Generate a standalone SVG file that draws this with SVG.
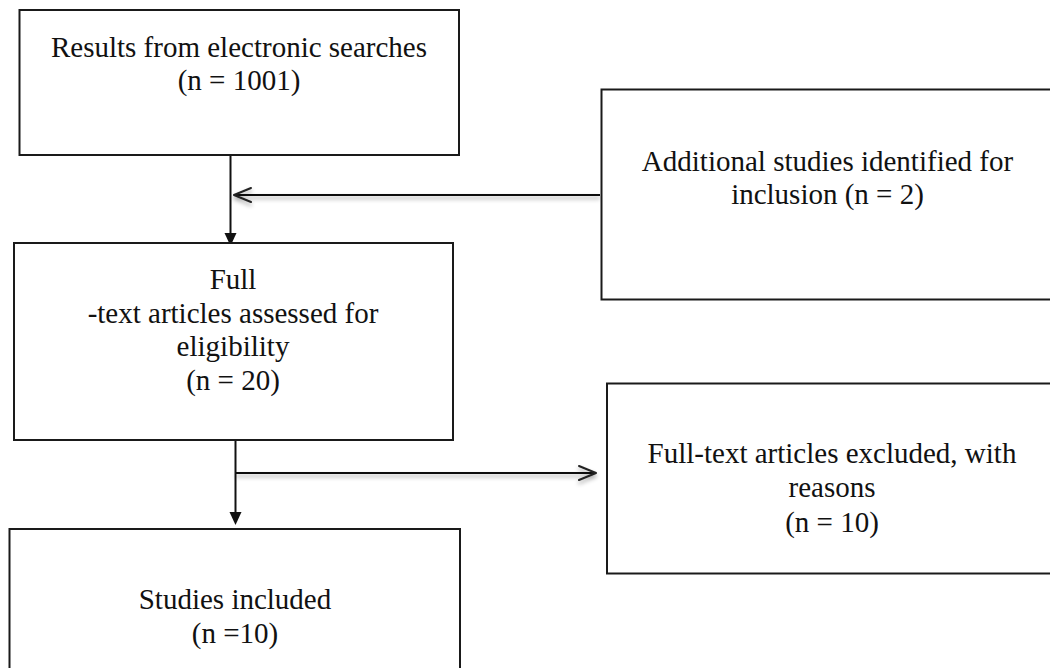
<svg xmlns="http://www.w3.org/2000/svg" width="1050" height="668" viewBox="0 0 1050 668">
  <style>
    .box { fill: #ffffff; stroke: #1a1a1a; stroke-width: 2; }
    .lbl { font-family: "Liberation Serif", "Times New Roman", serif; font-size: 29px; fill: #111111; text-anchor: middle; }
    .conn { stroke: #111111; stroke-width: 2; fill: none; }
    .open { stroke: #222222; stroke-width: 2; fill: none; stroke-linecap: round; stroke-linejoin: round; }
  </style>
  <defs>
    <marker id="tri" viewBox="0 0 12 13" refX="6" refY="13" markerWidth="12" markerHeight="13" markerUnits="userSpaceOnUse" orient="auto-start-reverse">
      <path d="M0,0 L12,0 L6,13 Z" fill="#111111"/>
    </marker>
    <filter id="shadow" x="-5%" y="-200%" width="110%" height="500%">
      <feDropShadow dx="0" dy="3" stdDeviation="2" flood-color="#000000" flood-opacity="0.35"/>
    </filter>
  </defs>
  <rect width="1050" height="668" fill="#ffffff"/>

  <g id="connectors">
    <line class="conn" x1="230.5" y1="155" x2="230.5" y2="233"/>
    <path d="M224.5,233 L236.5,233 L230.5,246 Z" fill="#111111"/>
    <g filter="url(#shadow)">
      <line class="conn" x1="600" y1="195" x2="234" y2="195"/>
      <polyline class="open" points="251,188 234,195 251,202"/>
    </g>
    <line class="conn" x1="235.5" y1="440" x2="235.5" y2="512"/>
    <path d="M229.5,512 L241.5,512 L235.5,525 Z" fill="#111111"/>
    <g filter="url(#shadow)">
      <line class="conn" x1="235.5" y1="473" x2="596" y2="473"/>
      <polyline class="open" points="579,466 596,473 579,480"/>
    </g>
  </g>

  <g id="node-results">
    <rect class="box" x="19.5" y="10" width="439.5" height="145"/>
    <text class="lbl" x="239" y="57">Results from electronic searches</text>
    <text class="lbl" x="239" y="90">(n = 1001)</text>
  </g>

  <g id="node-additional">
    <rect class="box" x="601.5" y="89.5" width="470" height="210"/>
    <text class="lbl" x="827.5" y="171">Additional studies identified for</text>
    <text class="lbl" x="827.5" y="204">inclusion (n = 2)</text>
  </g>

  <g id="node-fulltext">
    <rect class="box" x="14" y="243" width="439" height="197"/>
    <text class="lbl" x="233" y="289">Full</text>
    <text class="lbl" x="233" y="323">-text articles assessed for</text>
    <text class="lbl" x="233" y="356">eligibility</text>
    <text class="lbl" x="233" y="390">(n = 20)</text>
  </g>

  <g id="node-excluded">
    <rect class="box" x="607" y="383.5" width="470" height="190"/>
    <text class="lbl" x="832" y="463">Full-text articles excluded, with</text>
    <text class="lbl" x="832" y="497">reasons</text>
    <text class="lbl" x="832" y="532">(n = 10)</text>
  </g>

  <g id="node-included">
    <rect class="box" x="9.5" y="529" width="450.5" height="160"/>
    <text class="lbl" x="235" y="609">Studies included</text>
    <text class="lbl" x="235" y="643">(n =10)</text>
  </g>
</svg>
